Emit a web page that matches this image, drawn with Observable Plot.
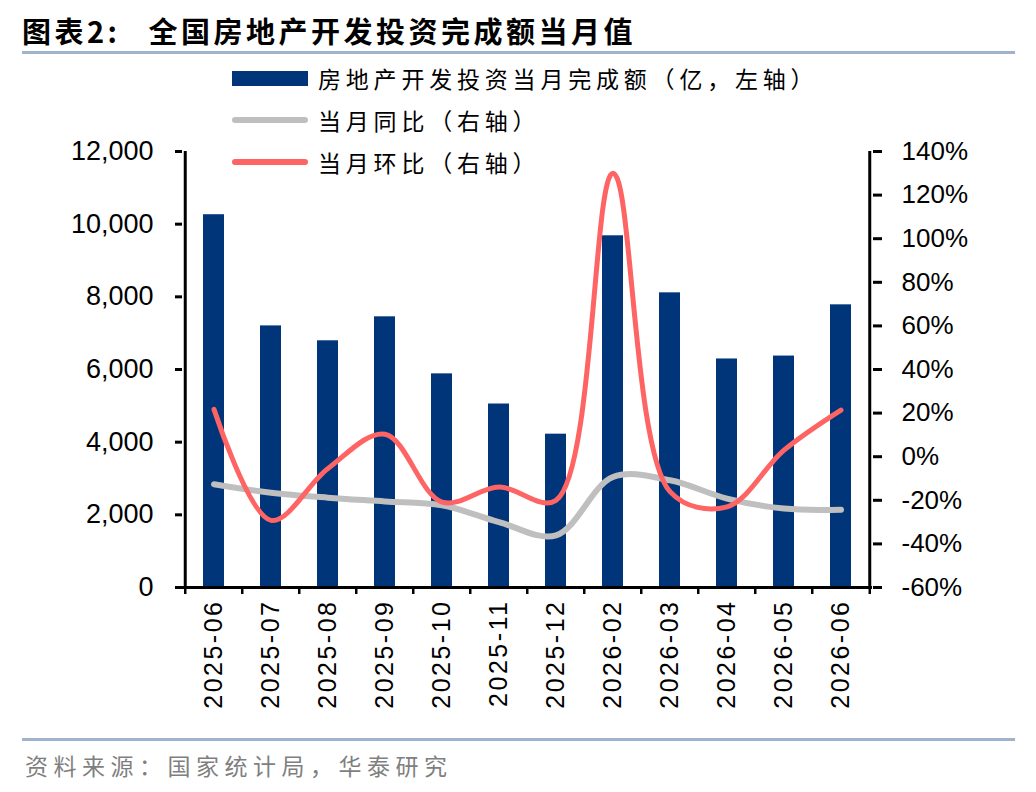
<!DOCTYPE html>
<html>
<head>
<meta charset="utf-8">
<script src="https://cdn.jsdelivr.net/npm/d3@7"></script>
<script src="https://cdn.jsdelivr.net/npm/@observablehq/plot@0.6"></script>
<style>
  body { margin: 0; background: #fff; }
  #wrap { position: relative; width: 1036px; height: 792px; overflow: hidden; font-family: "Noto Sans CJK SC", sans-serif; }
  #chart { position: absolute; left: 0; top: 0; }
  .title { position: absolute; left: 22px; top: 10px; font-size: 29px; font-weight: 700; color: #000; letter-spacing: 3.5px; white-space: nowrap; line-height: 40px; }
  .title .gap { display: inline-block; width: 28px; }
  .rule { position: absolute; left: 22px; width: 993px; height: 3px; background: #9fb4cc; }
  .source { position: absolute; left: 25px; top: 747px; font-size: 23px; color: #7f7f7f; letter-spacing: 5.5px; white-space: nowrap; line-height: 36px; }
  .leg { position: absolute; left: 232px; height: 36px; display: flex; align-items: center; white-space: nowrap; }
  .leg .sw { width: 76px; margin-right: 10px; }
  .leg .txt { font-size: 23px; letter-spacing: 4.8px; color: #000; line-height: 36px; }
  #chart g[aria-label="x-axis tick label"] text { letter-spacing: 2.5px; }
</style>
</head>
<body>
<div id="wrap">
  <div id="chart"></div>
  <div class="title">图表2:<span class="gap"></span>全国房地产开发投资完成额当月值</div>
  <div class="rule" style="top:51px"></div>
  <div class="leg" style="top:60px"><div class="sw" style="height:15px;background:#00357a"></div><div class="txt">房地产开发投资当月完成额（亿，左轴）</div></div>
  <div class="leg" style="top:102px"><div class="sw" style="height:6px;border-radius:3px;background:#bfbfbf"></div><div class="txt">当月同比（右轴）</div></div>
  <div class="leg" style="top:144px"><div class="sw" style="height:6px;border-radius:3px;background:#ff6464"></div><div class="txt">当月环比（右轴）</div></div>
  <div class="rule" style="top:738px"></div>
  <div class="source">资料来源：国家统计局，华泰研究</div>
</div>
<script>
const months = ["2025-06","2025-07","2025-08","2025-09","2025-10","2025-11","2025-12","2026-02","2026-03","2026-04","2026-05","2026-06"];
const investment = [10260, 7200, 6790, 7450, 5880, 5050, 4220, 9680, 8110, 6290, 6370, 7780];
const yoy = [-12.6, -16.5, -18.8, -20.5, -22.3, -30.0, -36.1, -9.3, -10.8, -19.2, -23.8, -24.3];
const mom = [21.7, -29.2, -5.4, 10.3, -20.8, -13.9, -20.0, 130.0, -16.0, -23.0, 3.0, 21.4];
const leftTicks = [0, 2000, 4000, 6000, 8000, 10000, 12000];
const rightTicks = [-60, -40, -20, 0, 20, 40, 60, 80, 100, 120, 140];

// right axis (-60%..140%) mapped onto left axis (0..12000)
const toLeft = v => (v + 60) * 60;
const fromLeft = y => y / 60 - 60;

const data = months.map((m, i) => ({month: m, inv: investment[i], yoy: yoy[i], mom: mom[i]}));

const W = 1036, H = 792, mL = 182, mR = 164, mT = 151, mB = 205;
const bw = (W - mL - mR) / months.length;
const pxPerUnit = (H - mT - mB) / 12000;

const chart = Plot.plot({
  width: W, height: H,
  marginLeft: mL, marginRight: mR, marginTop: mT, marginBottom: mB,
  style: {fontFamily: "Liberation Sans, Arial, sans-serif", fontSize: "25px", background: "transparent", color: "#000"},
  x: {type: "band", domain: months, padding: 0},
  y: {domain: [0, 12000]},
  marks: [
    Plot.barY(data, {x: "month", y: "inv", fill: "#00357a", insetLeft: 18, insetRight: 18}),
    Plot.line(data, {x: "month", y: d => toLeft(d.yoy), stroke: "#bfbfbf", strokeWidth: 6, curve: "catmull-rom", strokeLinecap: "round"}),
    Plot.line(data, {x: "month", y: d => toLeft(d.mom), stroke: "#ff6464", strokeWidth: 5, curve: "catmull-rom", strokeLinecap: "round"}),
    // axis lines
    Plot.ruleY([0], {stroke: "#000", strokeWidth: 3, insetLeft: -7}),
    Plot.ruleX([months[0]], {x: d => d, dx: -bw / 2, y1: 0, y2: 12000, stroke: "#000", strokeWidth: 3}),
    Plot.ruleX([months[months.length - 1]], {x: d => d, dx: bw / 2, y1: 0, y2: 12000, stroke: "#000", strokeWidth: 3}),
    // category boundary ticks
    Plot.ruleX(months, {x: d => d, dx: -bw / 2, y1: 0, y2: -7 / pxPerUnit, stroke: "#000", strokeWidth: 2.5}),
    Plot.ruleX([months[months.length - 1]], {x: d => d, dx: bw / 2, y1: 0, y2: -7 / pxPerUnit, stroke: "#000", strokeWidth: 2.5}),
    Plot.axisX({tickSize: 0, tickRotate: -90, tickPadding: 12, fontSize: 25, label: null}),
    Plot.axisY({anchor: "left", ticks: leftTicks, tickFormat: d3.format(","), tickSize: 7, tickPadding: 22, strokeWidth: 3, fontSize: 27, label: null}),
    Plot.axisY({anchor: "right", ticks: rightTicks.map(toLeft), tickFormat: d => `${Math.round(fromLeft(d))}%`, tickSize: 9, tickPadding: 20, strokeWidth: 3, fontSize: 26, label: null})
  ]
});
document.getElementById("chart").appendChild(chart);
</script>
</body>
</html>
